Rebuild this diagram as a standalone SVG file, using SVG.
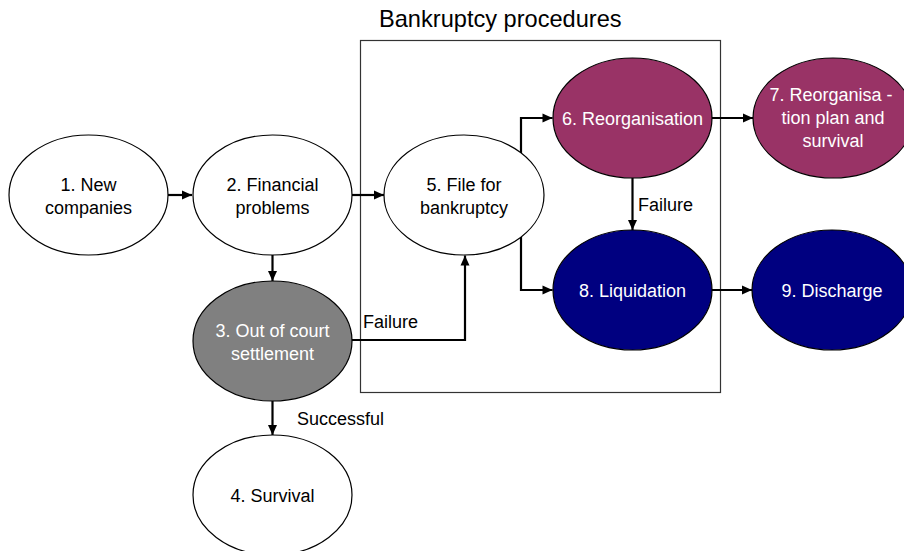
<svg xmlns="http://www.w3.org/2000/svg" width="904" height="551" viewBox="0 0 904 551">
<style>
  .node { stroke: #000; stroke-width: 1.2; }
  .white { fill: #ffffff; }
  .gray { fill: #808080; }
  .plum { fill: #993366; }
  .navy { fill: #000080; }
  text { font-family: "Liberation Sans", Arial, sans-serif; font-size: 18px; text-anchor: middle; }
  .dark { fill: #000; }
  .light { fill: #ffffff; }
  .lbl { text-anchor: start; fill: #000; }
  .title { font-size: 23.6px; text-anchor: start; fill: #000; }
  .conn { fill: none; stroke: #000; stroke-width: 2.2; }
  .box { fill: none; stroke: #333; stroke-width: 1.2; }
</style>
<defs>
  <marker id="arr" markerUnits="userSpaceOnUse" markerWidth="14" markerHeight="14" viewBox="0 0 14 14" refX="12" refY="7" orient="auto">
    <path d="M2,2.5 L12,7 L2,11.5 Z" fill="#000"/>
  </marker>
</defs>
<rect width="904" height="551" fill="#ffffff"/>

<g id="bankruptcy-box">
  <rect class="box" x="360.5" y="40.5" width="360" height="352"/>
  <text class="title" x="379" y="27">Bankruptcy procedures</text>
</g>

<g id="connectors">
  <path class="conn" d="M168,195 L192,195" marker-end="url(#arr)"/>
  <path class="conn" d="M352,195 L384,195" marker-end="url(#arr)"/>
  <path class="conn" d="M272.5,255 L272.5,281" marker-end="url(#arr)"/>
  <path class="conn" d="M272.5,401 L272.5,435" marker-end="url(#arr)"/>
  <path class="conn" d="M352,340 L465,340 L465,255.5" marker-end="url(#arr)"/>
  <path class="conn" d="M521,153 L521,118 L552.5,118" marker-end="url(#arr)"/>
  <path class="conn" d="M521,237 L521,290 L552.5,290" marker-end="url(#arr)"/>
  <path class="conn" d="M632.5,178 L632.5,230" marker-end="url(#arr)"/>
  <path class="conn" d="M712,118 L753,118" marker-end="url(#arr)"/>
  <path class="conn" d="M712,290 L752,290" marker-end="url(#arr)"/>
  <text class="lbl" x="363" y="328">Failure</text>
  <text class="lbl" x="297" y="425">Successful</text>
  <text class="lbl" x="638" y="211">Failure</text>
</g>

<g id="n1">
  <ellipse class="node white" cx="88.5" cy="195" rx="79.5" ry="60"/>
  <text class="dark" x="88.5" y="191">1. New</text>
  <text class="dark" x="88.5" y="213.5">companies</text>
</g>
<g id="n2">
  <ellipse class="node white" cx="272.5" cy="195" rx="79.5" ry="60"/>
  <text class="dark" x="272.5" y="191">2. Financial</text>
  <text class="dark" x="272.5" y="213.5">problems</text>
</g>
<g id="n3">
  <ellipse class="node gray" cx="272.5" cy="341" rx="79.5" ry="60"/>
  <text class="light" x="272.5" y="337">3. Out of court</text>
  <text class="light" x="272.5" y="359.5">settlement</text>
</g>
<g id="n4">
  <ellipse class="node white" cx="272.5" cy="495" rx="79.5" ry="60"/>
  <text class="dark" x="272.5" y="501.5">4. Survival</text>
</g>
<g id="n5">
  <ellipse class="node white" cx="464" cy="195" rx="80" ry="60"/>
  <text class="dark" x="464" y="191">5. File for</text>
  <text class="dark" x="464" y="213.5">bankruptcy</text>
</g>
<g id="n6">
  <ellipse class="node plum" cx="632.5" cy="118" rx="79.5" ry="60"/>
  <text class="light" x="632.5" y="124.5">6. Reorganisation</text>
</g>
<g id="n7">
  <ellipse class="node plum" cx="833" cy="118" rx="80" ry="60"/>
  <text class="light" x="831" y="101">7. Reorganisa -</text>
  <text class="light" x="833" y="124">tion plan and</text>
  <text class="light" x="833" y="147">survival</text>
</g>
<g id="n8">
  <ellipse class="node navy" cx="632.5" cy="290" rx="79.5" ry="60"/>
  <text class="light" x="632.5" y="296.5">8. Liquidation</text>
</g>
<g id="n9">
  <ellipse class="node navy" cx="832" cy="290" rx="80" ry="60"/>
  <text class="light" x="832" y="296.5">9. Discharge</text>
</g>
</svg>
